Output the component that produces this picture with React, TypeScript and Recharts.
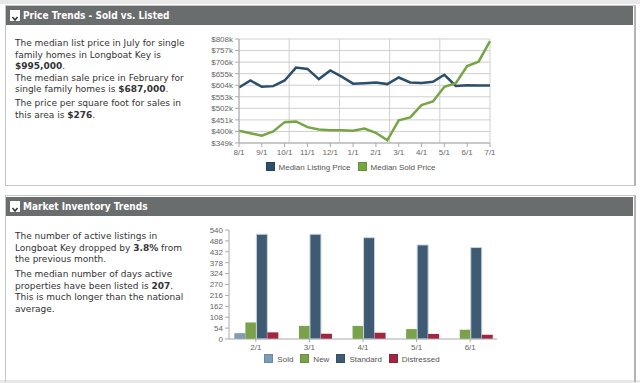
import React from 'react';
import { LineChart, Line, BarChart, Bar, XAxis, YAxis, CartesianGrid, Legend } from 'recharts';

// price trends, half-month points, values in $k
const periods = [
  '8/1', '8/16', '9/1', '9/16', '10/1', '10/16', '11/1', '11/16', '12/1', '12/16', '1/1', '1/16',
  '2/1', '2/16', '3/1', '3/16', '4/1', '4/16', '5/1', '5/16', '6/1', '6/16', '7/1',
];
const listingPrice = [594, 625, 597, 600, 625, 682, 676, 631, 669, 642, 611, 613, 616, 609, 638, 616, 614, 619, 650, 601, 604, 603, 603];
const soldPrice = [403, 392, 381, 400, 441, 444, 419, 409, 405, 405, 403, 413, 394, 361, 449, 462, 516, 532, 597, 613, 689, 708, 799];
const priceTicks = [349, 400, 451, 502, 553, 604, 655, 706, 757, 808];

// inventory
const months = ['2/1', '3/1', '4/1', '5/1', '6/1'];
const soldCount = [29, 0, 0, 0, 0];
const newCount = [82, 65, 65, 49, 46];
const standardCount = [519, 519, 502, 466, 453];
const distressedCount = [33, 26, 31, 25, 21];
const inventoryTicks = [0, 54, 108, 162, 216, 270, 324, 378, 432, 486, 540];

const priceData = periods.map((p, i) => ({ period: p, listing: listingPrice[i], sold: soldPrice[i] }));
const inventoryData = months.map((m, i) => ({
  month: m,
  sold: soldCount[i],
  new: newCount[i],
  standard: standardCount[i],
  distressed: distressedCount[i],
}));

const tickStyle = { fontSize: 8, fill: '#666', fontFamily: 'Liberation Sans, Arial, sans-serif' };
const textStyle: React.CSSProperties = {
  position: 'absolute',
  left: 15,
  fontFamily: 'DejaVu Sans, Verdana, sans-serif',
  fontSize: 9,
  lineHeight: '11.5px',
  color: '#333',
  whiteSpace: 'nowrap',
};

// keep series order in the legend
const keepOrder = () => 0;

const MiniLegend = ({ payload }: any) => (
  <div style={{ textAlign: 'center', lineHeight: '14px', fontSize: 8, fontFamily: 'Liberation Sans, Arial, sans-serif', color: '#555' }}>
    {(payload || []).map((item: any) => (
      <span key={item.value} style={{ display: 'inline-block', marginRight: 7, whiteSpace: 'nowrap' }}>
        <span style={{
          display: 'inline-block', width: 9, height: 9, background: item.color, marginRight: 4,
          verticalAlign: '-1px', boxShadow: 'inset 0 0 0 1px rgba(0,0,0,0.12)',
        }} />
        {item.value}
      </span>
    ))}
  </div>
);

const Header = ({ top, title }: { top: number; title: string }) => (
  <div style={{ position: 'absolute', left: 6, top, width: 627, height: 19, background: '#6a6d6d' }}>
    <div style={{ position: 'absolute', left: 4, top: 4, width: 10, height: 11, background: '#fff' }}>
      <svg width="10" height="11">
        <polyline points="2.5,4 5,7 7.5,4" fill="none" stroke="#333" strokeWidth="1.5" />
      </svg>
    </div>
    <div style={{
      position: 'absolute', left: 17, top: 3, color: '#fff', fontWeight: 'bold', fontSize: 10,
      fontFamily: 'DejaVu Sans Condensed, DejaVu Sans, sans-serif', lineHeight: '13px',
    }}>{title}</div>
  </div>
);

export default function App() {
  return (
    <div style={{ position: 'absolute', left: 0, top: 0, width: 640, height: 383, background: '#fff', overflow: 'hidden' }}>
      <div style={{ position: 'absolute', left: 0, top: 0, width: 640, height: 4, background: '#e8e8e8' }} />
      <div style={{ position: 'absolute', left: 0, top: 380, width: 640, height: 3, background: '#e8e8e8' }} />

      {/* panel 1 */}
      <div style={{ position: 'absolute', left: 5, top: 5, width: 628, height: 179, border: '1px solid #c6c6c6', borderRightWidth: 2, borderRightColor: '#b4b4b4' }} />
      <Header top={6} title="Price Trends - Sold vs. Listed" />
      <div style={{ ...textStyle, top: 38 }}>
        The median list price in July for single<br />
        family homes in Longboat Key is<br />
        <b>$995,000</b>.<br />
        The median sale price in February for<br />
        single family homes is <b>$687,000</b>.
      </div>
      <div style={{ ...textStyle, top: 98 }}>
        The price per square foot for sales in<br />
        this area is <b>$276</b>.
      </div>
      <div style={{ position: 'absolute', left: 190, top: 30 }}>
        <LineChart width={310} height={150} data={priceData} margin={{ top: 9, right: 10, bottom: 5, left: 0 }}>
          <CartesianGrid
            stroke="#cfcfcf"
            verticalCoordinatesGenerator={({ offset }: any) =>
              [0, 1, 2, 3, 4, 5].map((i) => offset.left + (offset.width * i) / 5)
            }
          />
          <XAxis
            dataKey="period"
            scale="point"
            interval={1}
            height={18}
            tick={tickStyle}
            tickSize={4}
            axisLine={{ stroke: '#aaa' }}
            tickLine={{ stroke: '#aaa' }}
          />
          <YAxis
            domain={[349, 808]}
            ticks={priceTicks}
            interval={0}
            width={49}
            tick={tickStyle}
            tickSize={4}
            axisLine={{ stroke: '#aaa' }}
            tickLine={{ stroke: '#aaa' }}
            tickFormatter={(v: number) => `$${v}k`}
          />
          <Legend
            verticalAlign="bottom"
            height={14}
            itemSorter={keepOrder}
            content={MiniLegend}
            wrapperStyle={{ paddingLeft: 14 }}
          />
          <Line
            name="Median Listing Price"
            dataKey="listing"
            type="linear"
            stroke="#2b4e6b"
            strokeWidth={2.5}
            dot={false}
            isAnimationActive={false}
          />
          <Line
            name="Median Sold Price"
            dataKey="sold"
            type="linear"
            stroke="#76a544"
            strokeWidth={2.5}
            dot={false}
            isAnimationActive={false}
          />
        </LineChart>
      </div>

      {/* panel 2 */}
      <div style={{ position: 'absolute', left: 5, top: 195, width: 628, height: 186, border: '1px solid #c6c6c6', borderRightWidth: 2, borderRightColor: '#b4b4b4', borderBottom: 'none' }} />
      <Header top={197} title="Market Inventory Trends" />
      <div style={{ ...textStyle, top: 231 }}>
        The number of active listings in<br />
        Longboat Key dropped by <b>3.8%</b> from<br />
        the previous month.
      </div>
      <div style={{ ...textStyle, top: 269 }}>
        The median number of days active<br />
        properties have been listed is <b>207</b>.<br />
        This is much longer than the national<br />
        average.
      </div>
      <div style={{ position: 'absolute', left: 190, top: 220 }}>
        <BarChart
          width={320}
          height={160}
          data={inventoryData}
          margin={{ top: 10, right: 13, bottom: 13, left: 0 }}
          barCategoryGap="10%"
          barGap={0}
        >
          <XAxis
            dataKey="month"
            height={14}
            tick={tickStyle}
            tickSize={3}
            axisLine={{ stroke: '#aaa' }}
            tickLine={{ stroke: '#aaa' }}
          />
          <YAxis
            domain={[0, 540]}
            ticks={inventoryTicks}
            interval={0}
            width={39}
            tick={tickStyle}
            tickSize={4}
            axisLine={{ stroke: '#aaa' }}
            tickLine={{ stroke: '#aaa' }}
          />
          <Legend
            verticalAlign="bottom"
            height={14}
            itemSorter={keepOrder}
            content={MiniLegend}
            wrapperStyle={{ paddingLeft: 12 }}
          />
          <Bar name="Sold" dataKey="sold" fill="#7d9db6" isAnimationActive={false} />
          <Bar name="New" dataKey="new" fill="#7aa24a" isAnimationActive={false} />
          <Bar name="Standard" dataKey="standard" fill="#3f5b74" stroke="#c9d4dd" strokeWidth={1} isAnimationActive={false} />
          <Bar name="Distressed" dataKey="distressed" fill="#a2263f" isAnimationActive={false} />
        </BarChart>
      </div>
    </div>
  );
}
